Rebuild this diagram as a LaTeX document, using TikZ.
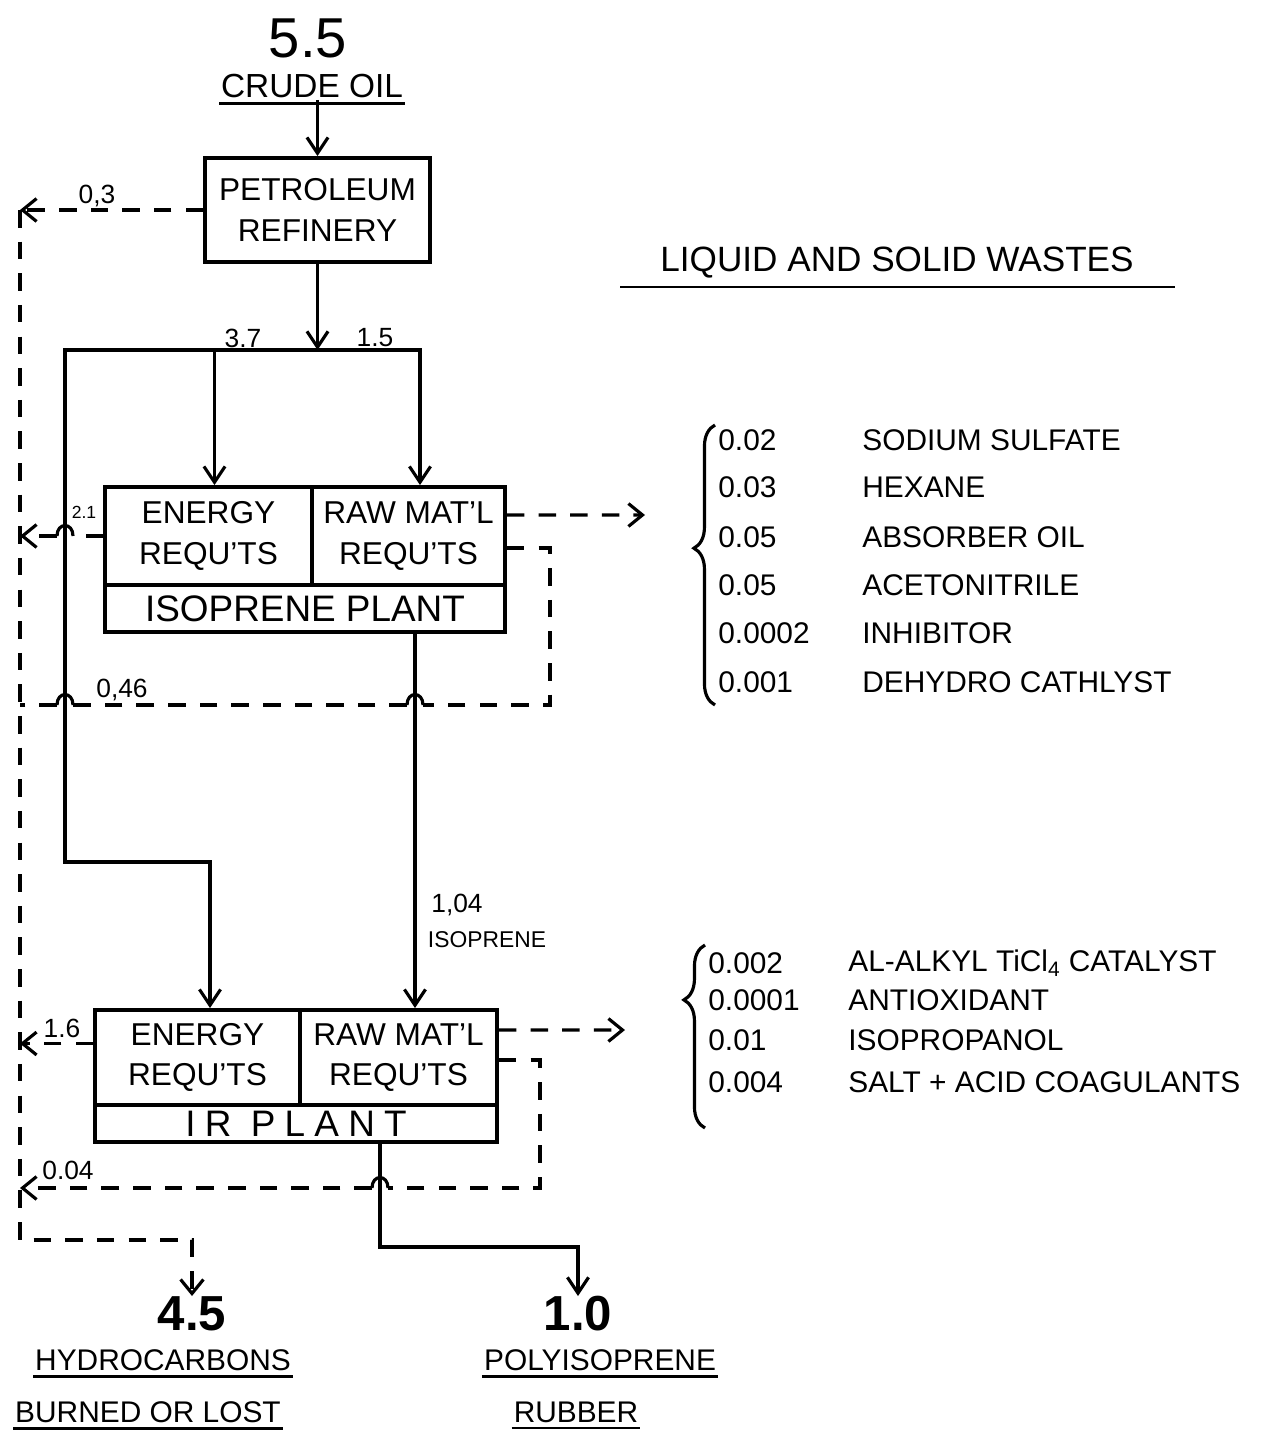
\documentclass[tikz,border=0pt]{standalone}
\usepackage{fontspec}
\setmainfont{Liberation Sans}
\usetikzlibrary{arrows.meta,decorations.pathreplacing}
\newcommand\myfs[2]{\fontsize{#1}{#2}\selectfont}
\tikzset{
  box/.style={draw, line width=2.2pt, inner sep=0pt, align=center, font=\myfs{18}{23}},
  flow/.style={line width=1.9pt, -{Straight Barb[length=9pt,width=12pt,line width=1.8pt]}},
  waste/.style={line width=1.8pt, dash pattern=on 10pt off 8pt},
  wtip/.style={-{Straight Barb[length=8pt,width=13pt,line width=1.8pt]}},
  hopline/.style={line width=1.8pt},
  uline/.style={line width=1.5pt},
  num/.style={font=\myfs{15}{18}, inner sep=1pt},
  item/.style={font=\myfs{17}{20}, anchor=west, inner sep=0pt},
  bigbrace/.style={line width=1.8pt, decorate, decoration={brace, amplitude=12pt}},
}
\begin{document}
\begin{tikzpicture}[x=0.02cm,y=-0.02cm]
\fill[white] (0,0) rectangle (1265,1440);
\useasboundingbox (0,0) rectangle (1265,1440);

% ---------- nodes ----------
\node[font=\myfs{32}{36}] (top) at (308,38) {5.5};
\node[font=\myfs{19}{22}, inner sep=1pt] (crude) at (312,86) {CRUDE OIL};
\node[box, minimum width=4.5cm, minimum height=2.08cm] (ref) at (317.5,210) {PETROLEUM\\REFINERY};

\node[box, minimum width=4.14cm, minimum height=1.96cm] (e1) at (208.5,536) {ENERGY\\REQU'TS};
\node[box, minimum width=3.86cm, minimum height=1.96cm] (r1) at (408.5,536) {RAW MAT'L\\REQU'TS};
\node[box, minimum width=8cm, minimum height=0.94cm, font=\myfs{21}{24}] (n1) at (305,608.5) {ISOPRENE PLANT};

\node[box, minimum width=4.1cm, minimum height=1.9cm] (e2) at (197.5,1057.5) {ENERGY\\REQU'TS};
\node[box, minimum width=3.94cm, minimum height=1.9cm] (r2) at (398.5,1057.5) {RAW MAT'L\\REQU'TS};
\node[box, minimum width=8.04cm, minimum height=0.74cm, font=\myfs{21}{24}\addfontfeature{LetterSpace=25}] (n2) at (296,1123.5) {IR PLANT};

\node[font=\myfs{28}{32}\bfseries, anchor=north, inner sep=0pt] (hyd) at (192,1296) {4.5};
\node[font=\myfs{17}{20}, inner sep=1pt] (hc1) at (163,1360) {HYDROCARBONS};
\node[font=\myfs{17}{20}, inner sep=1pt] (hc2) at (148,1412) {BURNED OR LOST};
\node[font=\myfs{28}{32}\bfseries, anchor=north, inner sep=0pt] (rub) at (578,1296) {1.0};
\node[font=\myfs{17}{20}, inner sep=1pt] (pr1) at (600,1360) {POLYISOPRENE};
\node[font=\myfs{17}{20}, inner sep=1pt] (pr2) at (576,1412) {RUBBER};

% flow labels
\node[num] (l37) at (243,338) {3.7};
\node[num] (l15) at (375,338) {1.5};
\node[num] (l03) at (97,196) {0,3};
\node[font=\myfs{10}{12}, inner sep=0pt] (l21) at (84,512) {2.1};
\node[num] (l046) at (122,690) {0,46};
\node[num] (l104) at (457,905) {1,04};
\node[font=\myfs{13}{15}, inner sep=1pt] (liso) at (487,940) {ISOPRENE};
\node[num] (l16) at (62,1028) {1.6};
\node[num] (l004) at (68,1170) {0.04};

% wastes
\node[font=\myfs{20}{24}, inner sep=1pt] (wh) at (897,263) {LIQUID AND SOLID WASTES};
\foreach \n/\y/\a/\b in {a1/440/0.02/SODIUM SULFATE, a2/487/0.03/HEXANE, a3/537/0.05/ABSORBER OIL,
  a4/585/0.05/ACETONITRILE, a5/633/0.0002/INHIBITOR, a6/682/0.001/DEHYDRO CATHLYST}
  {\node[item] (\n n) at (718,\y) {\a}; \node[item] (\n t) at (862,\y) {\b};}
\foreach \n/\y/\a/\b in {b1/963/0.002/AL-ALKYL TiCl\textsubscript{4} CATALYST, b2/1000/0.0001/ANTIOXIDANT,
  b3/1040/0.01/ISOPROPANOL, b4/1082/0.004/SALT + ACID COAGULANTS}
  {\node[item] (\n n) at (708,\y) {\a}; \node[item] (\n t) at (848,\y) {\b};}

% ---------- coordinates ----------
\coordinate (c0) at (20,210);
\coordinate (J) at (317.5,350);
\coordinate (w1) at (645,515);
\coordinate (w2) at (625,1030);

% ---------- underlines ----------
\foreach \m in {crude,hc1,hc2,pr1,pr2}
  \draw[uline] ([yshift=-2pt]\m.south west) -- ([yshift=-2pt]\m.south east);
\draw[uline] (620,287) -- (1175,287);

% ---------- braces ----------
\draw[bigbrace, decoration={aspect=0.56}] (715,705) -- (715,425);
\draw[bigbrace, decoration={aspect=0.7}] (705,1128) -- (705,945);

% ---------- solid flows ----------
\draw[flow] (crude.south -| ref.north) -- (ref.north);
\draw[flow] (ref.south) -- (J);
\draw[flow] (J) -| ([xshift=0.12cm]e1.north);
\draw[flow] (J) -| ([xshift=0.23cm]r1.north);
\draw[flow] (J) -| (65,862) -| ([xshift=0.25cm]e2.north);
\draw[flow] ([xshift=2.2cm]n1.south) -- ([xshift=2.2cm]n1.south |- r2.north);
\draw[flow] ([xshift=1.68cm]n2.south) -- ++(0,103) -| (rub.north);

% ---------- dashed waste flows ----------
% refinery
\draw[waste, wtip] (ref.west) -- (ref.west -| c0);
% collector to hydrocarbons
\draw[waste, wtip] (c0) -- (20,1240) -| (hyd.north);
% isoprene plant energy
\draw[waste] (e1.west) -- (73,536);
\draw[hopline] (73,536) .. controls (73,522) and (57,522) .. (57,536);
\draw[waste, wtip] (57,536) -- (e1.west -| c0);
% isoprene plant raw material (to wastes list)
\draw[waste, wtip] ([yshift=0.42cm]r1.east) -- (w1);
% isoprene plant raw material (burned)
\draw[waste] ([yshift=-0.24cm]r1.east) -| (550,705) -- (423,705);
\draw[hopline] (423,705) .. controls (423,691) and (407,691) .. (407,705);
\draw[waste] (407,705) -- (73,705);
\draw[hopline] (73,705) .. controls (73,691) and (57,691) .. (57,705);
\draw[waste] (57,705) -- (c0 |- 0,705);
% IR plant energy
\draw[waste, wtip] ([yshift=0.28cm]e2.west) -- ([yshift=0.28cm]e2.west -| c0);
% IR plant raw material (to wastes list)
\draw[waste, wtip] ([yshift=0.55cm]r2.east) -- (w2);
% IR plant raw material (burned)
\draw[waste] ([yshift=-0.05cm]r2.east) -| (540,1188) -- (388,1188);
\draw[hopline] (388,1188) .. controls (388,1174) and (372,1174) .. (372,1188);
\draw[waste, wtip] (372,1188) -- (c0 |- 0,1188);
\end{tikzpicture}
\end{document}
